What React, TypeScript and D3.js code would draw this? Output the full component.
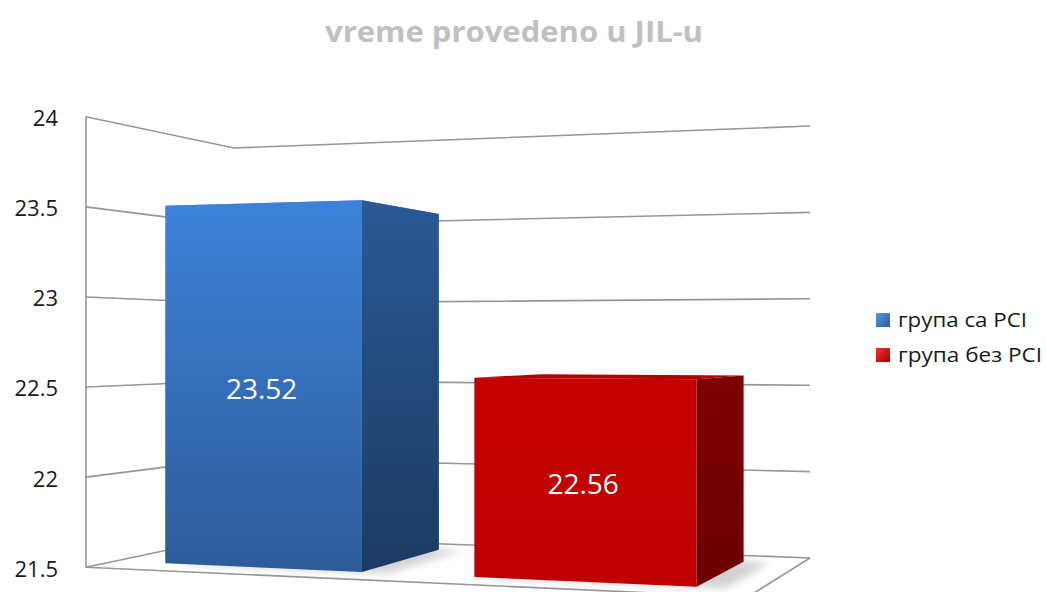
import * as d3 from 'd3';

// chart data
const categories = ['група са PCI', 'група без PCI'];
const values = [23.52, 22.56];
const tickValues = [21.5, 22, 22.5, 23, 23.5, 24];
const title = 'vreme provedeno u JIL-u';

const palette = [
  { front: ['#3d82da', '#2c5b98'], side: ['#2b5895', '#1c3a62'], top: '#4a8be0', legend: ['#5b9ae8', '#2a5896'] },
  { front: ['#c40000', '#bf0000'], side: ['#7e0000', '#6c0000'], top: '#b30000', legend: ['#ff3030', '#a00000'] },
];
const legendWidths = [129, 144];

export default function App() {
  const width = 1046;
  const height = 592;

  // simple 2-point perspective camera
  const focal = 1934;
  const cx = 450;
  const horizon = 342;
  const dirU = [0.9396, -0.3423]; // along the back wall (x, z)
  const dirW = [-0.3425, -0.9395]; // from back to front
  const origin = [-1.392, 12.46]; // back-left corner of floor
  const floorW = 3.699;
  const floorD = 1.836;

  const yWorld = d3.scaleLinear().domain([21.5, 24]).range([-1.25, 1.25]);
  const base = 21.5;

  const band = d3.scaleBand<string>()
    .domain(categories)
    .range([0, floorW])
    .paddingInner(0.35)
    .paddingOuter(0.175);

  const project = (u: number, w: number, v: number): [number, number] => {
    const X = origin[0] + u * dirU[0] + w * dirW[0];
    const Z = origin[1] + u * dirU[1] + w * dirW[1];
    const Y = yWorld(v);
    return [cx + (focal * X) / Z, horizon - (focal * Y) / Z];
  };

  const line = d3.line<[number, number]>();
  const poly = (pts: [number, number][]) => line(pts) + 'Z';

  const bw = band.bandwidth();
  const depthMid = floorD / 2;
  const w0 = depthMid - bw / 2;
  const w1 = depthMid + bw / 2;

  return (
    <svg width={width} height={height} style={{ position: 'absolute', left: 0, top: 0, background: '#fff' }}>
      <defs>
        {palette.map((p, i) => (
          <g key={i}>
            <linearGradient id={`front${i}`} x1="0" y1="0" x2="0" y2="1">
              <stop offset="0" stopColor={p.front[0]} />
              <stop offset="1" stopColor={p.front[1]} />
            </linearGradient>
            <linearGradient id={`side${i}`} x1="0" y1="0" x2="0" y2="1">
              <stop offset="0" stopColor={p.side[0]} />
              <stop offset="1" stopColor={p.side[1]} />
            </linearGradient>
            <linearGradient id={`leg${i}`} x1="0" y1="0" x2="1" y2="1">
              <stop offset="0" stopColor={p.legend[0]} />
              <stop offset="1" stopColor={p.legend[1]} />
            </linearGradient>
          </g>
        ))}
        <filter id="blur" x="-20%" y="-50%" width="140%" height="200%">
          <feGaussianBlur stdDeviation="4" />
        </filter>
      </defs>

      {/* title */}
      <text x={514} y={42} textAnchor="middle" fontFamily="Open Sans" fontWeight="bold" fontSize={29}
        fill="#c0c0c0" textLength={378} lengthAdjust="spacingAndGlyphs">{title}</text>

      {/* walls & gridlines */}
      {tickValues.map((t) => (
        <path key={t} d={line([project(0, floorD, t), project(0, 0, t), project(floorW, 0, t)]) || ''}
          fill="none" stroke="#969696" strokeWidth={1.6} />
      ))}
      <path d={line([project(0, floorD, base), project(floorW, floorD, base), project(floorW, 0, base)]) || ''}
        fill="none" stroke="#969696" strokeWidth={1.6} />
      <path d={line([project(0, floorD, base), project(0, floorD, 24)]) || ''}
        fill="none" stroke="#969696" strokeWidth={1.6} />

      {/* tick labels */}
      {tickValues.map((t) => {
        const [, y] = project(0, floorD, t);
        return (
          <text key={t} x={58} y={y + 1.5} dy="0.36em" textAnchor="end" fontFamily="Open Sans" fontSize={22} fill="#1a1a1a">
            {t}
          </text>
        );
      })}

      {/* bars */}
      {categories.map((c, i) => {
        const u0 = band(c) as number;
        const u1 = u0 + bw;
        const v = values[i];
        const shadow = poly([project(u0 + 0.05, w1, base), project(u1 + 0.15, w1, base), project(u1 + 0.15, w0, base), project(u0 + 0.05, w0, base)]);
        const top = poly([project(u0, w1, v), project(u1, w1, v), project(u1, w0, v), project(u0, w0, v)]);
        const side = poly([project(u1, w1, base), project(u1, w0, base), project(u1, w0, v), project(u1, w1, v)]);
        const front = poly([project(u0, w1, base), project(u1, w1, base), project(u1, w1, v), project(u0, w1, v)]);
        const [lx, ly0] = project((u0 + u1) / 2, w1, v);
        const [, ly1] = project((u0 + u1) / 2, w1, base);
        return (
          <g key={c}>
            <path d={shadow} fill="#000" opacity={0.18} filter="url(#blur)" />
            <path d={top} fill={palette[i].top} />
            <path d={side} fill={`url(#side${i})`} />
            <path d={front} fill={`url(#front${i})`} />
            <text x={lx} y={(ly0 + ly1) / 2 + 4} dy="0.35em" textAnchor="middle" fontFamily="Open Sans"
              fontSize={28} fill="#fff">
              {v}
            </text>
          </g>
        );
      })}

      {/* legend */}
      {categories.map((c, i) => (
        <g key={c} transform={`translate(876, ${313 + i * 35})`}>
          <rect width={14} height={14} fill={`url(#leg${i})`} />
          <text x={22} y={7} dy="0.36em" fontFamily="Open Sans" fontSize={20.5} fill="#1a1a1a"
            textLength={legendWidths[i]} lengthAdjust="spacingAndGlyphs">{c}</text>
        </g>
      ))}
    </svg>
  );
}
